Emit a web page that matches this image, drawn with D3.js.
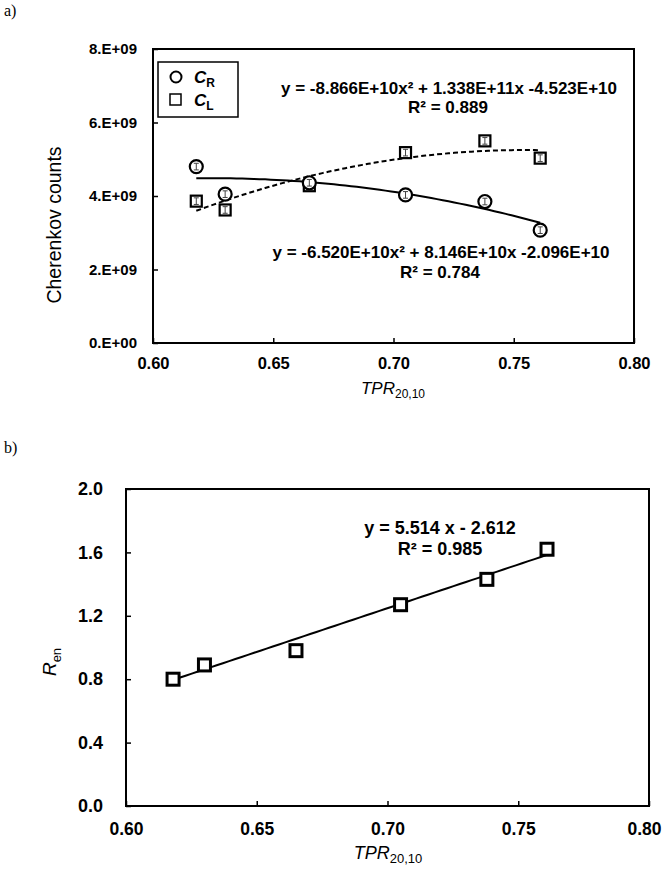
<!DOCTYPE html>
<html>
<head>
<meta charset="utf-8">
<script src="https://cdn.jsdelivr.net/npm/d3@7"></script>
<style>
    body { margin: 0; background: #fff; }
    svg { display: block; font-family: "Liberation Sans", Arial, sans-serif; }
    .tick line { stroke: #000; stroke-width: 1.5px; }
    .tick text { fill: #000; font-weight: bold; }
</style>
</head>
<body>
<svg width="663" height="869"></svg>
<script>
'use strict';

// values
var tpr = [0.618, 0.630, 0.665, 0.705, 0.738, 0.761];
var countsR = [4.80e9, 4.05e9, 4.36e9, 4.03e9, 3.85e9, 3.07e9];
var countsL = [3.86e9, 3.62e9, 4.28e9, 5.18e9, 5.50e9, 5.03e9];
var countsErr = [0.09e9, 0.09e9, 0.09e9, 0.09e9, 0.09e9, 0.09e9];
var ren = [0.80, 0.89, 0.98, 1.27, 1.43, 1.62];

// trendline coefficients (a, b, c) as printed on the chart
var fitR = [-6.520e10, 8.146e10, -2.096e10];
var fitL = [-8.866e10, 1.338e11, -4.523e10];
var fitRen = [5.514, -2.612];

var xTicks = [0.60, 0.65, 0.70, 0.75, 0.80];
var countTicks = [0, 2e9, 4e9, 6e9, 8e9];
var renTicks = [0, 0.4, 0.8, 1.2, 1.6, 2.0];

var svg = d3.select('svg');

function quad (c, x) {
    return c[0] * x * x + c[1] * x + c[2];
}

function curvePoints (f) {
    var pts = [], i, n = 60;
    var x0 = d3.min(tpr), x1 = d3.max(tpr);
    for (i = 0; i <= n; i++) {
        var x = x0 + (x1 - x0) * i / n;
        pts.push([x, f(x)]);
    }
    return pts;
}

function drawFrame (g, x, y) {
    g.append('rect')
        .attr('x', x.range()[0])
        .attr('y', y.range()[1])
        .attr('width', x.range()[1] - x.range()[0])
        .attr('height', y.range()[0] - y.range()[1])
        .attr('fill', 'none')
        .attr('stroke', '#000')
        .attr('stroke-width', 2);
}

function xTitle (g, cx, y, size) {
    var t = g.append('text')
        .attr('x', cx)
        .attr('y', y)
        .attr('text-anchor', 'middle')
        .style('font-size', size + 'px')
        .style('font-style', 'italic');
    t.append('tspan').text('TPR');
    t.append('tspan')
        .attr('dy', 4)
        .style('font-size', Math.round(size * 0.7) + 'px')
        .style('font-style', 'normal')
        .text('20,10');
}

function errorBars (g, x, y, vals) {
    var bars = g.append('g')
        .attr('stroke', '#444')
        .attr('stroke-width', 1);
    tpr.forEach(function (t, i) {
        var px = x(t), lo = y(vals[i] - countsErr[i]), hi = y(vals[i] + countsErr[i]);
        bars.append('line').attr('x1', px).attr('x2', px).attr('y1', lo).attr('y2', hi);
        bars.append('line').attr('x1', px - 2.5).attr('x2', px + 2.5).attr('y1', lo).attr('y2', lo);
        bars.append('line').attr('x1', px - 2.5).attr('x2', px + 2.5).attr('y1', hi).attr('y2', hi);
    });
}

// ---- a) Cherenkov counts
function drawTop () {
    var g = svg.append('g');
    var x = d3.scaleLinear().domain([0.60, 0.80]).range([153, 634]);
    var y = d3.scaleLinear().domain([0, 8e9]).range([343, 49]);

    g.append('text')
        .attr('x', 4).attr('y', 16)
        .style('font-family', '"Liberation Serif", "Times New Roman", serif')
        .style('font-size', '16px')
        .text('a)');

    g.append('g')
        .attr('transform', 'translate(0,343)')
        .call(d3.axisBottom(x).tickValues(xTicks).tickSize(-5).tickPadding(14)
            .tickFormat(d3.format('.2f')))
        .call(function (a) { a.select('.domain').remove(); })
        .selectAll('text').style('font-size', '16.5px');

    g.append('g')
        .attr('transform', 'translate(153,0)')
        .call(d3.axisLeft(y).tickValues(countTicks).tickSize(-5).tickPadding(16)
            .tickFormat(function (d) { return (d / 1e9).toFixed(0) + '.E+' + (d ? '09' : '00'); }))
        .call(function (a) { a.select('.domain').remove(); })
        .selectAll('text').style('font-size', '15px');

    drawFrame(g, x, y);

    var line = d3.line().x(function (d) { return x(d[0]); }).y(function (d) { return y(d[1]); });

    g.append('path')
        .attr('d', line(curvePoints(function (t) { return quad(fitR, t); })))
        .attr('fill', 'none').attr('stroke', '#000').attr('stroke-width', 2);
    g.append('path')
        .attr('d', line(curvePoints(function (t) { return quad(fitL, t); })))
        .attr('fill', 'none').attr('stroke', '#000').attr('stroke-width', 2)
        .attr('stroke-dasharray', '5,3');

    g.selectAll('rect.cl')
        .data(countsL)
        .enter().append('rect')
        .attr('class', 'cl')
        .attr('x', function (d, i) { return x(tpr[i]) - 5.5; })
        .attr('y', function (d) { return y(d) - 5.5; })
        .attr('width', 11).attr('height', 11)
        .attr('fill', '#fff').attr('stroke', '#000').attr('stroke-width', 2.2);
    errorBars(g, x, y, countsL);

    g.selectAll('circle.cr')
        .data(countsR)
        .enter().append('circle')
        .attr('class', 'cr')
        .attr('cx', function (d, i) { return x(tpr[i]); })
        .attr('cy', function (d) { return y(d); })
        .attr('r', 6.5)
        .attr('fill', '#fff').attr('stroke', '#000').attr('stroke-width', 2.2);
    errorBars(g, x, y, countsR);

    // legend
    var lg = g.append('g');
    lg.append('rect')
        .attr('x', 158).attr('y', 62).attr('width', 80).attr('height', 55)
        .attr('fill', '#fff').attr('stroke', '#000').attr('stroke-width', 1.5);
    lg.append('circle').attr('cx', 176).attr('cy', 77).attr('r', 5.5)
        .attr('fill', 'none').attr('stroke', '#000').attr('stroke-width', 2);
    lg.append('rect').attr('x', 170).attr('y', 94).attr('width', 11).attr('height', 11)
        .attr('fill', 'none').attr('stroke', '#000').attr('stroke-width', 1.5);
    [['R', 83], ['L', 106]].forEach(function (s) {
        var t = lg.append('text')
            .attr('x', 194).attr('y', s[1])
            .style('font-size', '17px').style('font-weight', 'bold');
        t.append('tspan').style('font-style', 'italic').text('C');
        t.append('tspan').attr('dy', 4).style('font-size', '12px').text(s[0]);
    });

    g.append('text')
        .attr('transform', 'translate(61,225) rotate(-90)')
        .attr('text-anchor', 'middle')
        .style('font-size', '19.5px')
        .text('Cherenkov counts');

    xTitle(g, 393, 394, 17);

    var eq = g.append('g')
        .attr('text-anchor', 'middle')
        .style('font-size', '17px').style('font-weight', 'bold');
    eq.append('text').attr('x', 449).attr('y', 94)
        .text('y = -8.866E+10x² + 1.338E+11x -4.523E+10');
    eq.append('text').attr('x', 448).attr('y', 113).text('R² = 0.889');
    eq.append('text').attr('x', 441).attr('y', 258)
        .text('y = -6.520E+10x² + 8.146E+10x -2.096E+10');
    eq.append('text').attr('x', 440).attr('y', 278).text('R² = 0.784');
}

// ---- b) R_en
function drawBottom () {
    var g = svg.append('g');
    var x = d3.scaleLinear().domain([0.60, 0.80]).range([126, 649]);
    var y = d3.scaleLinear().domain([0, 2.0]).range([806, 489]);

    g.append('text')
        .attr('x', 4).attr('y', 453)
        .style('font-family', '"Liberation Serif", "Times New Roman", serif')
        .style('font-size', '16px')
        .text('b)');

    var xa = g.append('g')
        .attr('transform', 'translate(0,806)')
        .call(d3.axisBottom(x).tickValues(xTicks).tickSize(-5).tickPadding(17)
            .tickFormat(d3.format('.2f')))
        .call(function (a) { a.select('.domain').remove(); });
    xa.selectAll('text').style('font-size', '17.5px');
    // keep the last label inside the page, as in the reference
    xa.selectAll('text').filter(function (d) { return d === 0.80; }).attr('dx', -5);

    g.append('g')
        .attr('transform', 'translate(126,0)')
        .call(d3.axisLeft(y).tickValues(renTicks).tickSize(-5).tickPadding(23)
            .tickFormat(d3.format('.1f')))
        .call(function (a) { a.select('.domain').remove(); })
        .selectAll('text').style('font-size', '18px');

    drawFrame(g, x, y);

    var line = d3.line().x(function (d) { return x(d[0]); }).y(function (d) { return y(d[1]); });
    g.append('path')
        .attr('d', line(curvePoints(function (t) { return fitRen[0] * t + fitRen[1]; })))
        .attr('fill', 'none').attr('stroke', '#000').attr('stroke-width', 2);

    g.selectAll('rect.ren')
        .data(ren)
        .enter().append('rect')
        .attr('class', 'ren')
        .attr('x', function (d, i) { return x(tpr[i]) - 6; })
        .attr('y', function (d) { return y(d) - 6; })
        .attr('width', 12).attr('height', 12)
        .attr('fill', '#fff').attr('stroke', '#000').attr('stroke-width', 3);

    var t = g.append('text')
        .attr('transform', 'translate(56,662) rotate(-90)')
        .attr('text-anchor', 'middle')
        .style('font-size', '19px');
    t.append('tspan').style('font-style', 'italic').text('R');
    t.append('tspan').attr('dy', 5).style('font-size', '13px').text('en');

    xTitle(g, 388, 859, 18);

    var eq = g.append('g')
        .attr('text-anchor', 'middle')
        .style('font-size', '18px').style('font-weight', 'bold');
    eq.append('text').attr('x', 440).attr('y', 534).text('y = 5.514 x - 2.612');
    eq.append('text').attr('x', 440).attr('y', 555).text('R² = 0.985');
}

drawTop();
drawBottom();
</script>
</body>
</html>
